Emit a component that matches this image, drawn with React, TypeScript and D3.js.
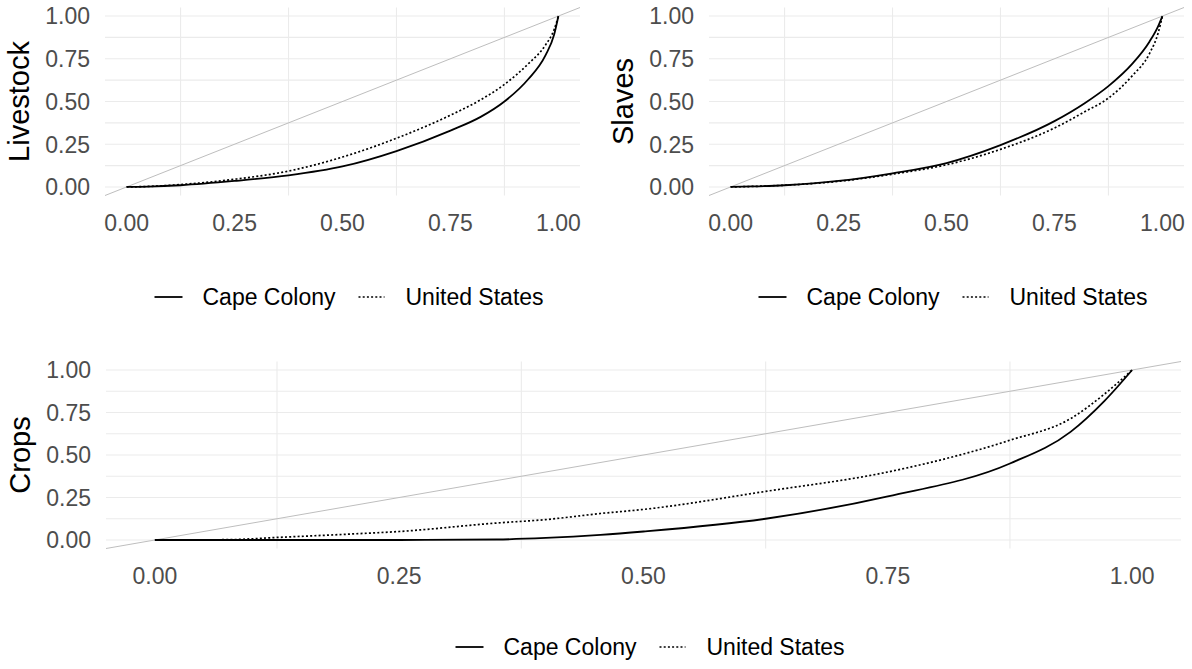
import React from 'react';
import * as d3 from 'd3';

// Lorenz curves
const livestockX = [0, 0.05, 0.125, 0.25, 0.375, 0.5, 0.625, 0.75, 0.82, 0.875, 0.93, 0.97, 0.99, 1];
const livestockCape = [0, 0.002, 0.01, 0.035, 0.068, 0.12, 0.21, 0.33, 0.41, 0.5, 0.63, 0.77, 0.89, 1];
const livestockUS = [0, 0.003, 0.014, 0.045, 0.093, 0.175, 0.285, 0.42, 0.51, 0.6, 0.72, 0.83, 0.92, 1];

const slavesX = [0, 0.05, 0.125, 0.25, 0.375, 0.5, 0.625, 0.75, 0.82, 0.875, 0.93, 0.97, 0.99, 1];
const slavesCape = [0, 0.003, 0.01, 0.035, 0.08, 0.14, 0.245, 0.385, 0.49, 0.59, 0.72, 0.85, 0.94, 1];
const slavesUS = [0, 0.003, 0.01, 0.033, 0.075, 0.13, 0.22, 0.345, 0.44, 0.52, 0.65, 0.78, 0.9, 1];

const cropsX = [0, 0.075, 0.125, 0.2, 0.25, 0.35, 0.4, 0.456, 0.5, 0.625, 0.75, 0.875, 0.937, 0.972, 1];
const cropsCape = [0, 0, 0, 0, 0, 0.003, 0.012, 0.03, 0.05, 0.125, 0.257, 0.45, 0.636, 0.82, 1];
const cropsUS = [0, 0.002, 0.015, 0.035, 0.05, 0.1, 0.12, 0.156, 0.18, 0.286, 0.4, 0.587, 0.714, 0.86, 1];

const majorBreaks = [0, 0.25, 0.5, 0.75, 1];
const minorBreaks = [0.125, 0.375, 0.625, 0.875];
const seriesNames = ['Cape Colony', 'United States'];

const FONT = '"Liberation Sans", Arial, sans-serif';
const fmt = d3.format('.2f');

type PanelProps = {
  title: string;
  xs: number[];
  cape: number[];
  us: number[];
  left: number;
  right: number;
  top: number;
  bottom: number;
  legendY: number;
};

const Panel = ({ title, xs, cape, us, left, right, top, bottom, legendY }: PanelProps) => {
  const x = d3.scaleLinear().domain([-0.05, 1.05]).range([left, right]);
  const y = d3.scaleLinear().domain([-0.05, 1.05]).range([bottom, top]);

  const line = d3.line<[number, number]>()
    .x(d => x(d[0]))
    .y(d => y(d[1]))
    .curve(d3.curveMonotoneX);

  const capePts = xs.map((v, i) => [v, cape[i]] as [number, number]);
  const usPts = xs.map((v, i) => [v, us[i]] as [number, number]);

  const hLines = [...majorBreaks, ...minorBreaks];
  const mid = (left + right) / 2;
  const lx = mid - 188;

  return (
    <g>
      {hLines.map(v => (
        <line key={'h' + v} x1={left} x2={right} y1={y(v)} y2={y(v)} stroke="#EBEBEB" strokeWidth={1.1} />
      ))}
      {minorBreaks.map(v => (
        <line key={'v' + v} x1={x(v)} x2={x(v)} y1={top} y2={bottom} stroke="#EBEBEB" strokeWidth={1.1} />
      ))}
      {/* line of equality */}
      <line x1={x(-0.05)} y1={y(-0.05)} x2={x(1.05)} y2={y(1.05)} stroke="#BEBEBE" strokeWidth={1} />
      <path d={line(usPts) || ''} fill="none" stroke="#000" strokeWidth={1.7} strokeDasharray="2,2.2" />
      <path d={line(capePts) || ''} fill="none" stroke="#000" strokeWidth={1.8} />

      {majorBreaks.map(v => (
        <text key={'yt' + v} x={left - 15} y={y(v)} dy="0.36em" textAnchor="end" fill="#4D4D4D" fontSize={23}>
          {fmt(v)}
        </text>
      ))}
      {majorBreaks.map(v => (
        <text key={'xt' + v} x={x(v)} y={bottom + 35} textAnchor="middle" fill="#4D4D4D" fontSize={23}>
          {fmt(v)}
        </text>
      ))}
      <text transform={`translate(${left - 76},${(top + bottom) / 2}) rotate(-90)`} textAnchor="middle" fill="#000" fontSize={29}>
        {title}
      </text>

      {/* legend */}
      <line x1={lx} x2={lx + 28} y1={legendY} y2={legendY} stroke="#000" strokeWidth={1.8} />
      <text x={lx + 48} y={legendY} dy="0.36em" fontSize={23} fill="#000">{seriesNames[0]}</text>
      <line x1={lx + 204} x2={lx + 230} y1={legendY} y2={legendY} stroke="#000" strokeWidth={1.6} strokeDasharray="2,2.2" />
      <text x={lx + 251} y={legendY} dy="0.36em" fontSize={23} fill="#000">{seriesNames[1]}</text>
    </g>
  );
};

export default function App() {
  return (
    <svg width={1192} height={669} style={{ position: 'absolute', left: 0, top: 0, background: '#fff' }} fontFamily={FONT}>
      <Panel title="Livestock" xs={livestockX} cape={livestockCape} us={livestockUS}
        left={105} right={580} top={7.5} bottom={195.5} legendY={297} />
      <Panel title="Slaves" xs={slavesX} cape={slavesCape} us={slavesUS}
        left={709} right={1184} top={7.5} bottom={195.5} legendY={297} />
      <Panel title="Crops" xs={cropsX} cape={cropsCape} us={cropsUS}
        left={106} right={1181} top={361.5} bottom={548.5} legendY={647} />
    </svg>
  );
}
